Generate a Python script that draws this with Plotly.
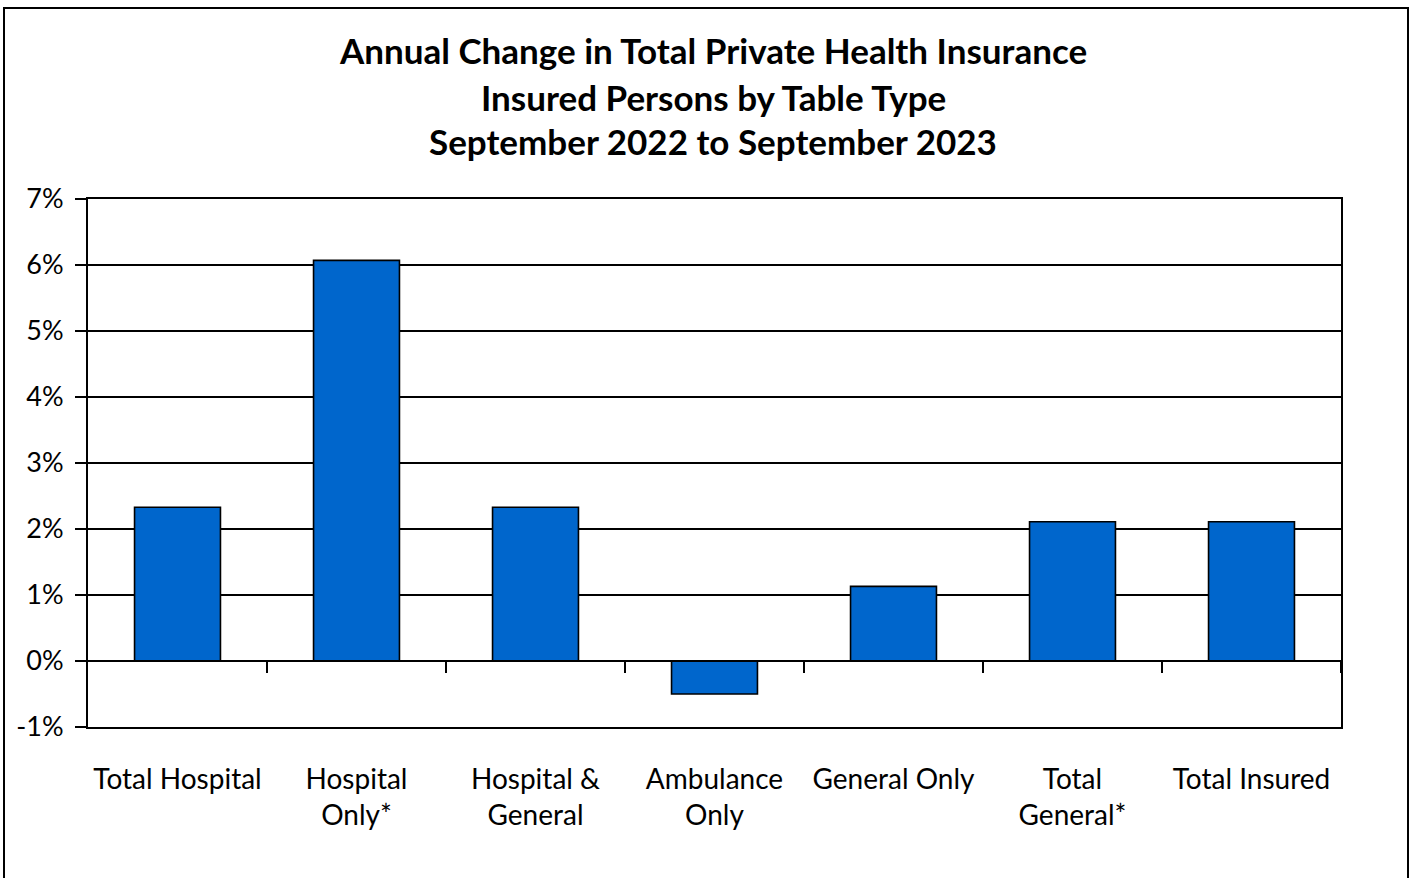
import plotly.graph_objects as go

# Annual change in insured persons, Sep 2022 -> Sep 2023 (%)
categories = ["Total Hospital", "Hospital<br>Only*", "Hospital &<br>General",
              "Ambulance<br>Only", "General Only", "Total<br>General*", "Total Insured"]
change_pct = [2.33, 6.07, 2.33, -0.50, 1.13, 2.11, 2.11]

y_ticks = [-1, 0, 1, 2, 3, 4, 5, 6, 7]
y_tick_text = [f"{v}%" for v in y_ticks]

title_lines = [
    "Annual Change in Total Private Health Insurance",
    "Insured Persons by Table Type",
    "September 2022 to September 2023",
]

FONT = "Lato"
W, H = 1413, 878
M_L, M_R, M_T, M_B = 88, 72, 199, 151
plot_h = H - M_T - M_B
plot_w = W - M_L - M_R

fig = go.Figure()
fig.add_trace(go.Bar(
    x=list(range(len(categories))),
    y=change_pct,
    width=0.48,
    marker=dict(color="#0066CC", line=dict(color="#000000", width=1.6)),
    hoverinfo="skip",
))
# invisible trace so the zero-line axis has a scale
fig.add_trace(go.Scatter(x=[0], y=[0], xaxis="x2", mode="markers",
                         marker=dict(opacity=0), hoverinfo="skip", showlegend=False))


def py(pixel_y):
    return (H - M_B - pixel_y) / plot_h


def px(pixel_x):
    return (pixel_x - M_L) / plot_w


annotations = []
for text, yc in zip(title_lines, [50, 97, 141]):
    annotations.append(dict(
        text=f"<b>{text}</b>", xref="paper", yref="paper",
        x=px(713), y=py(yc), xanchor="center", yanchor="middle",
        showarrow=False, font=dict(family=FONT, size=35, color="#000000"),
    ))

fig.update_layout(
    width=W, height=H,
    margin=dict(l=M_L, r=M_R, t=M_T, b=M_B),
    paper_bgcolor="#FFFFFF", plot_bgcolor="#FFFFFF",
    showlegend=False,
    bargap=0.52,
    font=dict(family=FONT, size=26, color="#000000"),
    annotations=annotations,
    xaxis=dict(
        tickmode="array", tickvals=list(range(len(categories))), ticktext=categories,
        range=[-0.5, len(categories) - 0.5],
        showline=True, linecolor="#000000", linewidth=2, mirror=True,
        showgrid=False, zeroline=False, ticks="", ticklabelstandoff=26,
        tickfont=dict(family=FONT, size=28, color="#000000"),
    ),
    xaxis2=dict(
        overlaying="x", anchor="free", position=1 / 8, side="bottom",
        range=[-0.5, len(categories) - 0.5],
        tickmode="array", tickvals=[i + 0.5 for i in range(len(categories))],
        showticklabels=False, ticks="outside", ticklen=11, tickwidth=2, tickcolor="#000000",
        showline=True, linecolor="#000000", linewidth=2,
        showgrid=False, zeroline=False,
    ),
    yaxis=dict(
        range=[-1, 7], tickmode="array", tickvals=y_ticks, ticktext=y_tick_text,
        showline=True, linecolor="#000000", linewidth=2, mirror=True,
        showgrid=True, gridcolor="#000000", gridwidth=1.6,
        zeroline=False, ticks="outside", ticklen=11, tickwidth=2, tickcolor="#000000",
        ticklabelstandoff=6,
        tickfont=dict(family=FONT, size=27, color="#000000"),
    ),
    shapes=[dict(
        type="rect", xref="paper", yref="paper",
        x0=px(4), x1=px(1408), y0=py(920), y1=py(8),
        line=dict(color="#000000", width=2), fillcolor="rgba(0,0,0,0)", layer="below",
    )],
)

fig.write_html("out.html")
